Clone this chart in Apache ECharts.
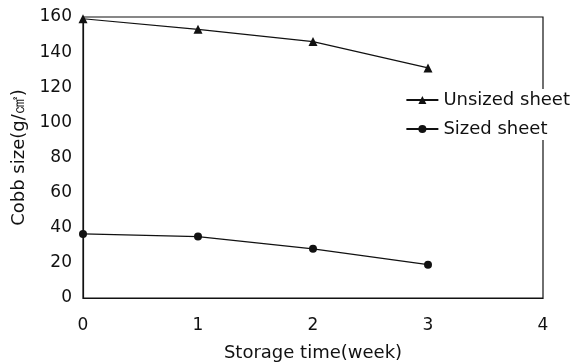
<!DOCTYPE html>
<html>
<head>
<meta charset="utf-8">
<script src="https://cdn.jsdelivr.net/npm/echarts@6/dist/echarts.min.js"></script>
<style>
  html, body { margin: 0; padding: 0; background: #fff; }
  #chart { width: 582px; height: 363px; }
</style>
</head>
<body>
<div id="chart"></div>
<script>
// Storage time in weeks
const weeks = [0, 1, 2, 3];
// Cobb size values (g/㎠)
const unsized = [159, 153, 146, 131];
const sized = [36.5, 35, 28, 19];
const xTicks = [0, 1, 2, 3, 4];
const yTicks = [0, 20, 40, 60, 80, 100, 120, 140, 160];

const font = 'DejaVu Sans, Verdana, sans-serif';
const ink = '#111';

const chart = echarts.init(document.getElementById('chart'), null, { renderer: 'canvas' });

const toPairs = (xs, ys) => xs.map((x, i) => [x, ys[i]]);

chart.setOption({
  backgroundColor: '#fff',
  animation: false,
  grid: {
    left: 83, right: 39, top: 17, bottom: 65,
    containLabel: false,
    outerBoundsMode: 'none',
    show: true, borderColor: ink, borderWidth: 1.2, backgroundColor: 'transparent'
  },
  legend: {
    right: 12, top: 89,
    orient: 'vertical',
    itemGap: 11,
    itemWidth: 32,
    itemHeight: 10,
    backgroundColor: '#fff',
    padding: [2, 0, 2, 2],
    textStyle: { fontFamily: font, fontSize: 18, color: ink },
    data: ['Unsized sheet', 'Sized sheet']
  },
  xAxis: {
    type: 'value',
    min: xTicks[0], max: xTicks[xTicks.length - 1], interval: 1,
    name: 'Storage time(week)',
    nameLocation: 'middle',
    nameGap: 46,
    nameTextStyle: { fontFamily: font, fontSize: 18, color: ink },
    axisLine: { show: true, lineStyle: { color: ink, width: 1.2 } },
    axisTick: { show: false },
    splitLine: { show: false },
    axisLabel: { fontFamily: font, fontSize: 17, color: ink, margin: 19 }
  },
  yAxis: {
    type: 'value',
    min: yTicks[0], max: yTicks[yTicks.length - 1], interval: 20,
    name: 'Cobb size(g/㎠)',
    nameLocation: 'middle',
    nameGap: 53,
    nameTextStyle: { fontFamily: font, fontSize: 18, color: ink },
    axisLine: { show: true, lineStyle: { color: ink, width: 1.2 } },
    axisTick: { show: false },
    splitLine: { show: false },
    axisLabel: { fontFamily: font, fontSize: 17, color: ink, margin: 11 }
  },
  series: [
    {
      name: 'Unsized sheet',
      type: 'line',
      data: toPairs(weeks, unsized),
      symbol: 'triangle',
      symbolSize: 9,
      itemStyle: { color: ink },
      lineStyle: { color: ink, width: 1.2 }
    },
    {
      name: 'Sized sheet',
      type: 'line',
      data: toPairs(weeks, sized),
      symbol: 'circle',
      symbolSize: 8,
      itemStyle: { color: ink },
      lineStyle: { color: ink, width: 1.2 }
    }
  ]
});
</script>
</body>
</html>
